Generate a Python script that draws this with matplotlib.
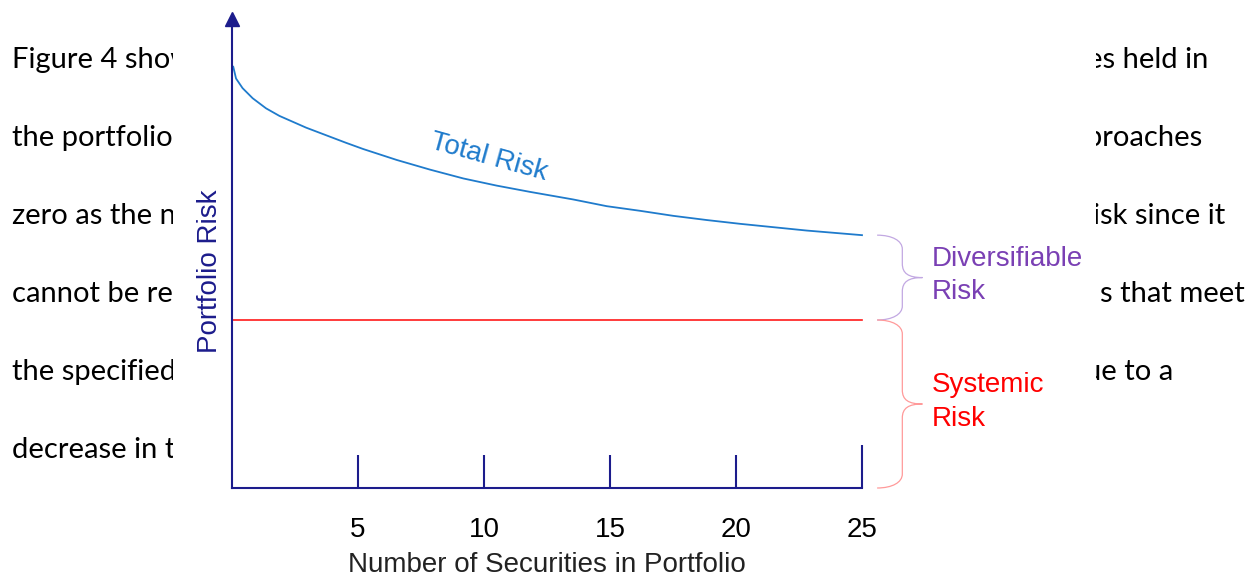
"""Portfolio risk vs number of securities: total risk curve, systemic floor,
drawn over a cut-off paragraph of body text (as in the source page)."""
import matplotlib
matplotlib.use("Agg")
import matplotlib.pyplot as plt
from matplotlib.path import Path
from matplotlib.patches import PathPatch, Rectangle

# ---- data (risk in arbitrary units) ----
n_securities = [0.05, 0.16, 0.42, 0.82, 1.35, 1.88, 2.94, 4.52, 5.21, 6.54, 7.86, 9.18,
                10.50, 11.83, 13.54, 14.87, 16.19, 17.51, 18.84, 20.16, 21.48, 22.80, 25.0]
total_risk = [100.3, 97.5, 95.2, 92.8, 90.4, 88.6, 85.8, 82.2, 80.7, 78.1, 75.8, 73.7,
              72.0, 70.5, 68.7, 67.1, 66.0, 64.8, 63.8, 62.9, 62.1, 61.3, 60.2]
systemic_risk = 40.0
x_ticks = [5, 10, 15, 20, 25]

# paragraph fragments visible around the chart
left_text = ["Figure 4 show", "the portfolio", "zero as the n", "cannot be re",
             "the specified", "decrease in t"]
right_text = {0: "es held in", 1: "proaches", 2: "isk since it", 3: "s that meet", 4: "ue to a"}

NAVY = "#1c1c8c"
BLUE = "#1f7bcc"
RED = "#ff1a1a"
PURPLE = "#7a40b4"
W, H = 1257, 579
CHART_FONT = "Liberation Sans"

fig = plt.figure(figsize=(W / 100, H / 100), dpi=100)

# background page text, in pixel coords
bg = fig.add_axes([0, 0, 1, 1])
bg.set_xlim(0, W); bg.set_ylim(H, 0); bg.axis("off")
baselines = [68, 146, 224, 302, 380, 458]
right_edges = {0: 1208, 1: 1202, 2: 1225, 3: 1245, 4: 1173}
for y, s in zip(baselines, left_text):
    bg.text(12, y, s, fontsize=21, family="Lato", va="baseline", ha="left", color="black")
for row, s in right_text.items():
    bg.text(right_edges[row], baselines[row], s, fontsize=21, family="Lato",
            va="baseline", ha="right", color="black")
bg.add_patch(Rectangle((173, 0), 1096 - 173, H, facecolor="white", edgecolor="none", zorder=5))

# chart axes
x0px, x1px, y0px, ytop = 232, 862, 488, 19
ax = fig.add_axes([x0px / W, (H - y0px) / H, (x1px - x0px) / W, (y0px - ytop) / H])
ax.patch.set_alpha(0)
ax.set_xlim(0, 25)
ax.set_ylim(0, (y0px - ytop) / 4.2)
for side in ("top", "right"):
    ax.spines[side].set_visible(False)
for side in ("left", "bottom"):
    ax.spines[side].set_color(NAVY)
    ax.spines[side].set_linewidth(1.5)
ax.plot(0, 1, marker="^", ms=10, color=NAVY, transform=ax.transAxes, clip_on=False)

ax.set_yticks([])
ax.set_xticks(x_ticks)
ax.set_xticklabels([str(t) for t in x_ticks], family=CHART_FONT, fontsize=20)
ax.tick_params(axis="x", direction="in", length=23.8, width=1.5, color=NAVY, pad=21)
ax.xaxis.get_major_ticks()[-1].tick1line.set_markersize(31)

ax.plot(n_securities, total_risk, color=BLUE, lw=1.3, solid_joinstyle="round", clip_on=False)
ax.plot([0, 25], [systemic_risk, systemic_risk], color=RED, lw=1.2, clip_on=False)

ax.set_xlabel("Number of Securities in Portfolio", family=CHART_FONT, fontsize=20,
              color="#222222", labelpad=6)
ax.set_ylabel("Portfolio Risk", family=CHART_FONT, fontsize=20, color=NAVY)
ax.yaxis.set_label_coords(-0.015, 0.463)

ax.text(10.2, 78.8, "Total Risk", family=CHART_FONT, fontsize=20, color=BLUE,
        rotation=-15.5, ha="center", va="center", rotation_mode="anchor")


def brace(ax, y_lo, y_hi, color):
    xa, xm, xt = 25.6, 26.6, 27.4
    r = 14 / 4.2
    ym = (y_lo + y_hi) / 2
    verts = [(xa, y_hi),
             (xa + 0.6 * (xm - xa), y_hi), (xm, y_hi - 0.4 * r), (xm, y_hi - r),
             (xm, ym + r),
             (xm, ym + 0.3 * r), (xm + 0.3 * (xt - xm), ym), (xt, ym),
             (xm + 0.3 * (xt - xm), ym), (xm, ym - 0.3 * r), (xm, ym - r),
             (xm, y_lo + r),
             (xm, y_lo + 0.4 * r), (xa + 0.6 * (xm - xa), y_lo), (xa, y_lo)]
    codes = [Path.MOVETO] + [Path.CURVE4] * 3 + [Path.LINETO] + [Path.CURVE4] * 6 \
        + [Path.LINETO] + [Path.CURVE4] * 3
    ax.add_patch(PathPatch(Path(verts, codes), fill=False, edgecolor=color, lw=0.9,
                           clip_on=False))
    return ym


ym = brace(ax, systemic_risk, total_risk[-1], "#c2a8e2")
ax.text(27.78, ym + 0.5, "Diversifiable\nRisk", family=CHART_FONT, fontsize=20,
        color=PURPLE, ha="left", va="center", linespacing=1.36)
ym = brace(ax, 0, systemic_risk, "#ff9a9a")
ax.text(27.78, ym + 0.5, "Systemic\nRisk", family=CHART_FONT, fontsize=20,
        color="#ff0000", ha="left", va="center", linespacing=1.36)

fig.savefig("out.png", dpi=100)
